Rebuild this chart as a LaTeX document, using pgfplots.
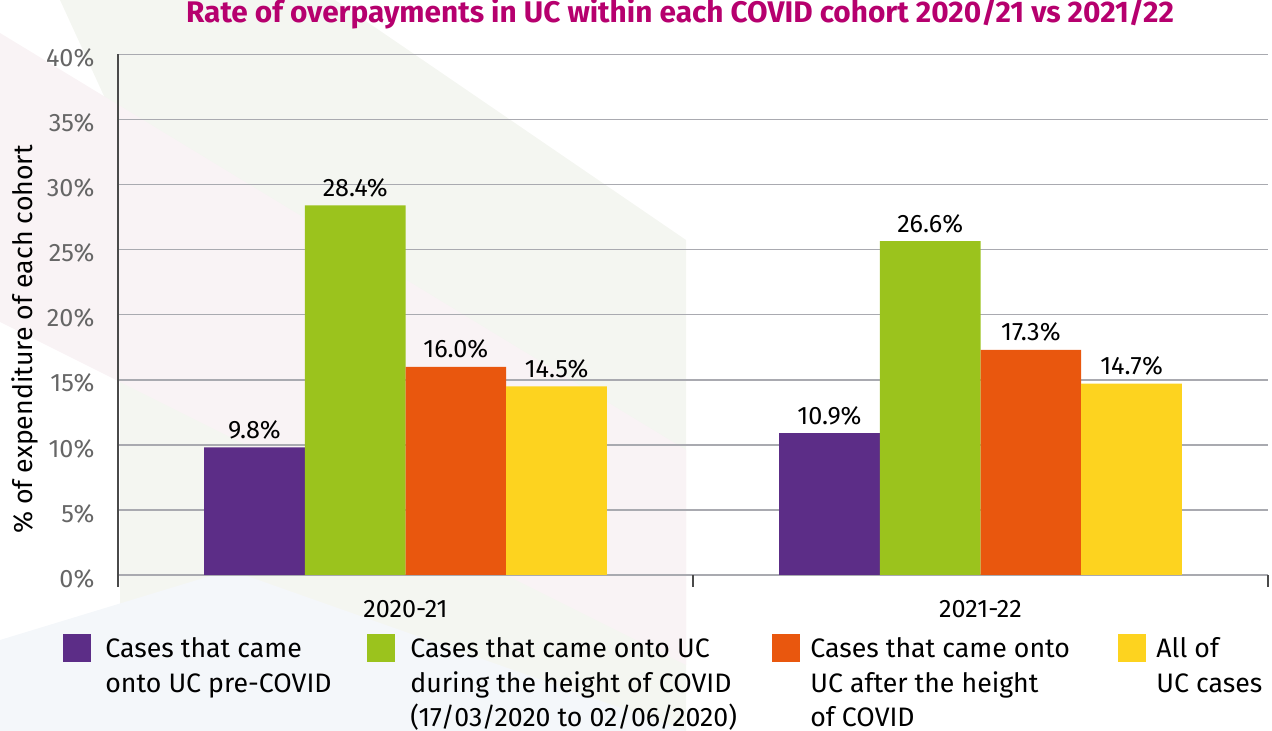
\documentclass[border=0pt]{standalone}
\usepackage{fontspec}
\setmainfont{Fira Sans}
\usepackage{pgfplots}
\pgfplotsset{compat=1.18}
\definecolor{ucpurple}{HTML}{5C2D87}
\definecolor{ucgreen}{HTML}{9BC31D}
\definecolor{ucorange}{HTML}{E9570E}
\definecolor{ucyellow}{HTML}{FDD31F}
\definecolor{titlecol}{HTML}{B6006E}
\definecolor{gridcol}{HTML}{A9AAB0}
\definecolor{axiscol}{HTML}{4A4A4A}
\definecolor{tickcol}{HTML}{666666}
\definecolor{bggreen}{HTML}{F4F6F1}
\definecolor{bgpink}{HTML}{F9F3F5}
\definecolor{bgblue}{HTML}{F4F7FA}
\newcommand{\lentry}[3]{\hspace*{#1}\parbox[t]{#2}{\raggedright #3}}
\begin{document}
\begin{tikzpicture}[x=1pt,y=1pt]
\path[use as bounding box] (0,0) rectangle (636,365.5);
\fill[bggreen] (30,365.5) -- (167.5,365.5) -- (343,245.5) -- (343,0) -- (60,0) -- (60,300) -- cycle;
\fill[bgpink] (0,349) -- (343,140.5) -- (343,33) -- (0,204.5) -- cycle;
\fill[bgblue] (0,45.5) -- (115,80.5) -- (343,0) -- (0,0) -- cycle;
\begin{axis}[
  at={(59pt,78pt)}, anchor=south west,
  scale only axis, width=575pt, height=260.25pt,
  xmin=-0.5, xmax=1.5, ymin=0, ymax=40,
  ybar=0pt, bar width=50.35pt,
  axis x line=bottom, axis y line=left, axis line style={-},
  x axis line style={draw=gridcol, line width=1pt},
  y axis line style={draw=axiscol, line width=1pt},
  ymajorgrids, major grid style={draw=gridcol, line width=0.75pt},
  ytick={0,5,...,40},
  yticklabels={0\%,5\%,10\%,15\%,20\%,25\%,30\%,35\%,40\%},
  ytick style={draw=none},
  yticklabel style={font=\fontsize{12.6}{14}\selectfont, text=tickcol, anchor=east, inner sep=0pt, xshift=-9.5pt, yshift=-1.8pt},
  xtick={0,1}, xticklabels={2020-21,2021-22},
  xtick style={draw=none},
  xticklabel style={font=\fontsize{12.6}{14}\selectfont, text=black, anchor=base, inner sep=0pt, yshift=-19pt},
  extra x ticks={-0.5,0.5,1.5}, extra x tick labels={},
  extra x tick style={xtick style={draw=axiscol, line width=0.75pt}, major tick length=6pt, tick align=outside, grid=none},
  title={Rate of overpayments in UC within each COVID cohort 2020/21 vs 2021/22},
  title style={at={(axis description cs:0.4887,1)}, anchor=base, yshift=10pt, font=\fontsize{14.9}{17}\selectfont\bfseries, text=titlecol, inner sep=0pt},
  ylabel={\% of expenditure of each cohort},
  ylabel style={at={(axis description cs:-0.0809,0.4524)}, anchor=center, font=\fontsize{13.35}{15}\selectfont, inner sep=0pt},
  nodes near coords, point meta=explicit symbolic,
  every node near coord/.append style={font=\fontsize{12.6}{14}\selectfont, text=black, anchor=base, inner sep=0pt, yshift=4.5pt},
  legend image code/.code={\fill[#1] (0pt,1.5pt) rectangle (14pt,-12.5pt);},
  legend columns=4,
  legend style={at={(axis description cs:-0.04783,-0.11335)}, anchor=north west, draw=none, fill=none, inner sep=0pt,
    font=\fontsize{13.35}{17.2}\selectfont, cells={anchor=north west}, nodes={inner sep=0pt}},
]
\addplot[fill=ucpurple, draw=none] coordinates {(0,9.8) [9.8\%] (1,10.9) [10.9\%]};
\addlegendentry{\lentry{7pt}{131pt}{Cases that came\\onto UC pre-COVID}}
\addplot[fill=ucgreen, draw=none] coordinates {(0,28.4) [28.4\%] (1,25.65) [26.6\%]};
\addlegendentry{\lentry{7.5pt}{181pt}{Cases that came onto UC\\during the height of COVID\\(17/03/2020 to 02/06/2020)}}
\addplot[fill=ucorange, draw=none] coordinates {(0,16.0) [16.0\%] (1,17.3) [17.3\%]};
\addlegendentry{\lentry{5pt}{154pt}{Cases that came onto\\UC after the height\\of COVID}}
\addplot[fill=ucyellow, draw=none] coordinates {(0,14.5) [14.5\%] (1,14.7) [14.7\%]};
\addlegendentry{\lentry{5pt}{55pt}{All of\\UC cases}}
\end{axis}
\end{tikzpicture}
\end{document}
